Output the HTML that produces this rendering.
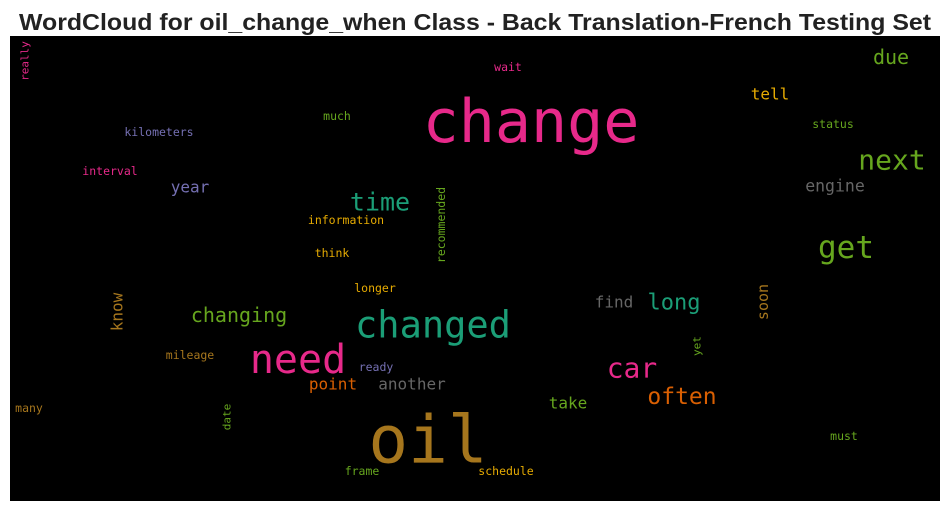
<!DOCTYPE html>
<html><head><meta charset="utf-8"><style>
html,body{margin:0;padding:0;background:#fff;}
svg{display:block;}
</style></head><body>
<svg id="chart" width="950" height="511" viewBox="0 0 950 511" xmlns="http://www.w3.org/2000/svg">
<text x="475" y="30" text-anchor="middle" textLength="912" lengthAdjust="spacingAndGlyphs" font-family="Liberation Sans, sans-serif" font-weight="bold" font-size="23" fill="#222">WordCloud for oil_change_when Class - Back Translation-French Testing Set</text>
<rect x="10" y="36" width="930" height="465" fill="#000"/>
<g id="words"></g>
</svg>
<script>
const words = ["change","oil","changed","need","get","next","car","time","long","often","changing","due","tell","engine","find","another","point","take","year","know","soon","recommended","yet","date","really","kilometers","interval","much","information","think","wait","status","longer","mileage","ready","many","frame","schedule","must"];
const sizes = [60,66,37,40,31,28,28,25,22,23,20,20,16,16.5,16,16,16,16,16,16,15,11.5,11,11,11,11.5,11.5,11.5,11.5,11.5,11.5,11.5,11.5,11.5,11.5,11.5,11.5,11.5,11.5];
const colors = ["#e7298a","#a6761d","#1b9e77","#e7298a","#66a61e","#66a61e","#e7298a","#1b9e77","#1b9e77","#d95f02","#66a61e","#66a61e","#e6ab02","#666666","#666666","#666666","#d95f02","#66a61e","#7570b3","#a6761d","#a6761d","#66a61e","#66a61e","#66a61e","#e7298a","#7570b3","#e7298a","#66a61e","#e6ab02","#e6ab02","#e7298a","#66a61e","#e6ab02","#a6761d","#7570b3","#a6761d","#66a61e","#e6ab02","#66a61e"];
const cx = [531,428,433,298,846,892,632,380,674,682,239,891,770,835,614,412,333,568,190,117,763,441,697,227,25,159,110,337,346,332,508,833,375,190,376,29,362,506,844];
const cy = [122,440,325,360,248,160,368,202,303,397,315,57,94,186,302,384,384,403,187,312,302,225,346,417,61,132,171,116,220,253,67,124,288,355,367,408,471,471,436];
const rot = [0,0,0,0,0,0,0,0,0,0,0,0,0,0,0,0,0,0,0,1,1,1,1,1,1,0,0,0,0,0,0,0,0,0,0,0,0,0,0];
const g = document.getElementById('words');
const NS = 'http://www.w3.org/2000/svg';
for (let i = 0; i < words.length; i++) {
  const t = document.createElementNS(NS, 'text');
  
  
  t.setAttribute('x', cx[i]);
  t.setAttribute('y', cy[i]);
  t.setAttribute('text-anchor', 'middle');
  t.setAttribute('dominant-baseline', 'central');
  t.setAttribute('font-family', 'DejaVu Sans Mono, Liberation Mono, monospace');
  t.setAttribute('font-size', sizes[i]);
  t.setAttribute('fill', colors[i]);
  if (rot[i]) t.setAttribute('transform', 'rotate(-90 ' + cx[i] + ' ' + cy[i] + ')');
  t.textContent = words[i];
  g.appendChild(t);
}
</script>
</body></html>
